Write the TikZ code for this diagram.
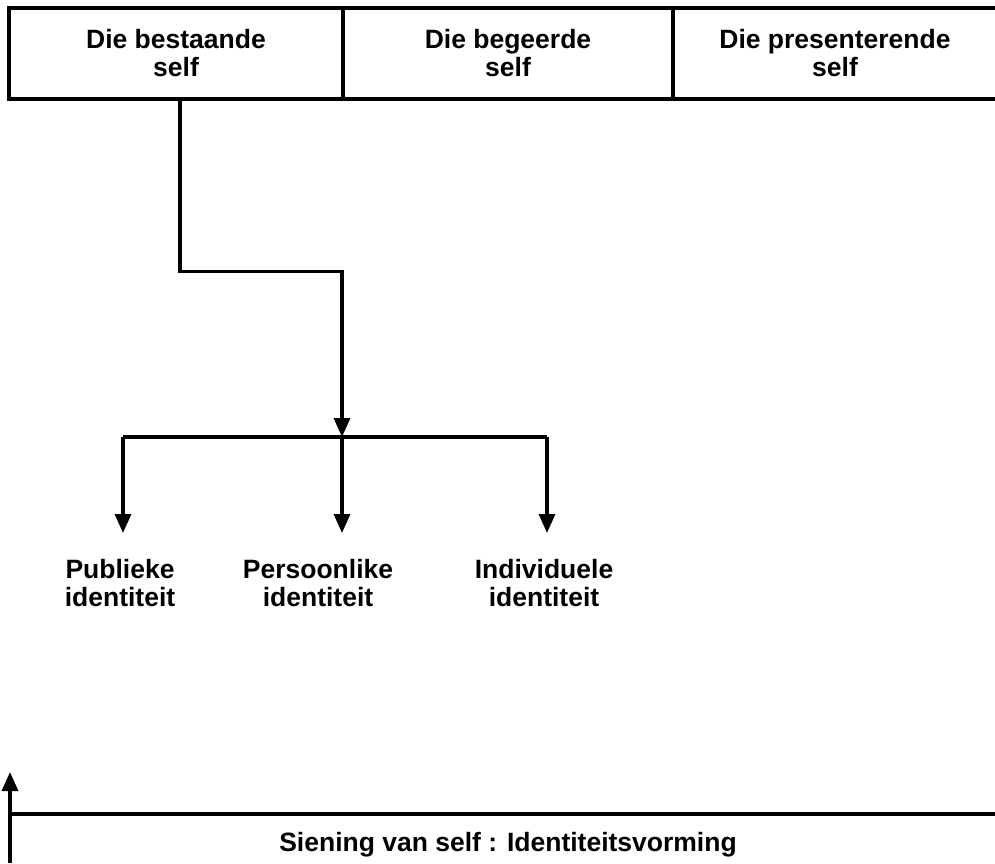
\documentclass[tikz,border=0pt]{standalone}
\usepackage{fontspec}
\setmainfont{Liberation Sans}
\usetikzlibrary{arrows.meta}
\begin{document}
\begin{tikzpicture}[x=1pt,y=-1pt,
  line/.style={line width=3.3pt},
  arr/.style={line width=3.3pt,-{Triangle[length=19pt,width=16pt]}},
  box/.style={draw,line width=3.3pt,minimum height=91pt,inner sep=0pt,align=center,font=\fontsize{26.5}{28}\selectfont\bfseries},
  lab/.style={align=center,inner sep=0pt,font=\fontsize{26.5}{28}\selectfont\bfseries}]
\useasboundingbox (0,0) rectangle (995,863);
\node[box,minimum width=334pt] (b1) at (176,53.5) {Die bestaande\\self};
\node[box,minimum width=330pt] (b2) at (508,53.5) {Die begeerde\\self};
\node[box,minimum width=324pt] (b3) at (835,53.5) {Die presenterende\\self};
\coordinate (j) at (342,437);
\coordinate (t1) at (123,533);
\coordinate (t2) at (342,533);
\coordinate (t3) at (547,533);
\draw[arr] ([xshift=4pt]b1.south) -- ++(0,171) -| (j);
\draw[line] (123,437) -- (547,437);
\draw[arr] (t1 |- j) -- (t1);
\draw[arr] (j) -- (t2);
\draw[arr] (t3 |- j) -- (t3);
\node[lab] (l1) at (120,583) {Publieke\\identiteit};
\node[lab] (l2) at (318,583) {Persoonlike\\identiteit};
\node[lab] (l3) at (544,583) {Individuele\\identiteit};
\coordinate (u0) at (10,863);
\coordinate (u1) at (10,772);
\draw[arr] (u0) -- (u1);
\draw[line] (10,814) -- (997,814);
\node[lab] (s) at (508,845) {Siening van self : Identiteitsvorming};
\end{tikzpicture}
\end{document}
